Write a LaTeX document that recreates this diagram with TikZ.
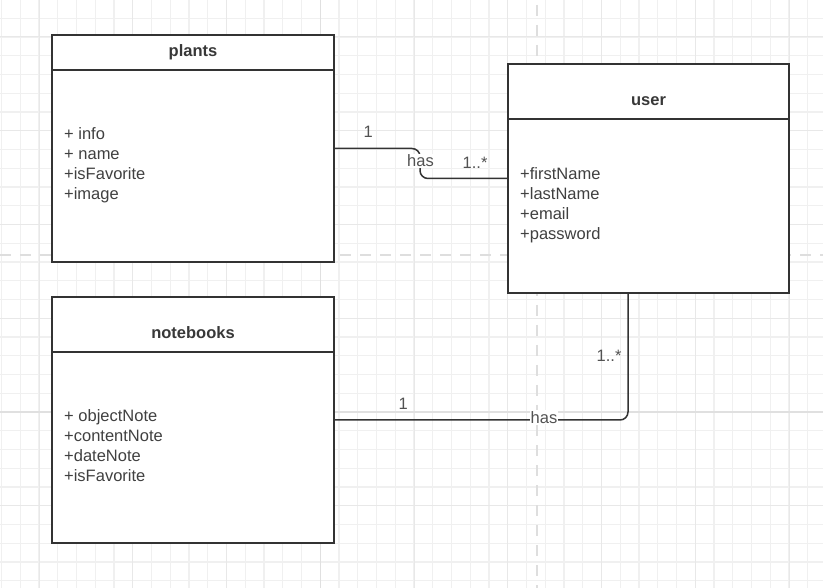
\documentclass[tikz,border=0pt]{standalone}
\usepackage{fontspec}
\setmainfont{Liberation Sans}
\begin{document}
\begin{tikzpicture}[x=1pt,y=-1pt,
  minorgrid/.style={draw=black!6,line width=1.2pt},
  majorgrid/.style={draw=black!9,line width=1pt},
  maingrid/.style={draw=black!12,line width=1.5pt},
  pagebreak/.style={draw=black!13,line width=2.4pt,dash pattern=on 11pt off 9pt},
  umlbox/.style={draw=black!80,line width=2pt,fill=white,rectangle,inner sep=0pt,outer sep=0pt,anchor=north west},
  divider/.style={draw=black!80,line width=2pt},
  titletext/.style={font=\fontsize{16.5}{20}\selectfont\bfseries,text=black!78,inner sep=0pt,anchor=base},
  attrtext/.style={font=\fontsize{16.5}{20}\selectfont,text=black!75,inner sep=0pt,anchor=base west},
  conn/.style={draw=black!80,line width=1.5pt,rounded corners=8pt},
  mult/.style={font=\fontsize{16.5}{20}\selectfont,text=black!68,inner sep=0pt,anchor=base west},
  assoc/.style={font=\fontsize{16.5}{20}\selectfont,text=black!68,fill=white,inner sep=1pt,anchor=base}
]
\useasboundingbox (0,0) rectangle (823,588);
\fill[white] (0,0) rectangle (823,588);
% grid
\foreach \i in {0,...,43} \draw[minorgrid] ({1.5+18.75*\i},0) -- ({1.5+18.75*\i},588);
\foreach \i in {0,...,31} \draw[minorgrid] (0,{-0.5+18.75*\i}) -- (823,{-0.5+18.75*\i});
\foreach \i in {0,1,2,4,5,6,7,8} \draw[majorgrid] ({39+93.75*\i},0) -- ({39+93.75*\i},588);
\foreach \i in {0,1,2,3,5} \draw[majorgrid] (0,{37+93.75*\i}) -- (823,{37+93.75*\i});
\draw[maingrid] (320.25,0) -- (320.25,588);
\draw[maingrid] (0,412) -- (823,412);
\draw[pagebreak] (537,5) -- (537,588);
\draw[pagebreak] (0,255) -- (823,255);

% boxes
\node[umlbox,minimum width=282pt,minimum height=227pt] (plants) at (52,35) {};
\node[umlbox,minimum width=281pt,minimum height=229pt] (user) at (508,64) {};
\node[umlbox,minimum width=282pt,minimum height=246pt] (notebooks) at (52,297) {};

\draw[divider] ([yshift=-35pt]plants.north west) -- ([yshift=-35pt]plants.north east);
\draw[divider] ([yshift=-55pt]user.north west) -- ([yshift=-55pt]user.north east);
\draw[divider] ([yshift=-55pt]notebooks.north west) -- ([yshift=-55pt]notebooks.north east);

% titles
\node[titletext] (tplants) at (193,56.7) {plants};
\node[titletext] (tuser) at (648.5,106) {user};
\node[titletext] (tnotebooks) at (193,338.3) {notebooks};

% attributes
\node[attrtext] (p1) at (64,139.3) {+ info};
\node[attrtext] (p2) at (64,159.3) {+ name};
\node[attrtext] (p3) at (64,179.3) {+isFavorite};
\node[attrtext] (p4) at (64,199.3) {+image};

\node[attrtext] (u1) at (520,179.5) {+firstName};
\node[attrtext] (u2) at (520,199.5) {+lastName};
\node[attrtext] (u3) at (520,219.5) {+email};
\node[attrtext] (u4) at (520,240) {+password};

\node[attrtext] (n1) at (64,421.3) {+ objectNote};
\node[attrtext] (n2) at (64,441.3) {+contentNote};
\node[attrtext] (n3) at (64,461.3) {+dateNote};
\node[attrtext] (n4) at (64,481.3) {+isFavorite};

% connectors
\draw[conn] (plants.east) -- ++(86,0) |- (user.west);
\draw[conn] ([xshift=-20.5pt]user.south) |- (notebooks.east);

% labels
\node[assoc] (has1) at (420.5,166.7) {has};
\node[mult] (m1a) at (363.5,137.3) {1};
\node[mult] (m1b) at (462.5,168.3) {1..*};

\node[assoc] (has2) at (544,423.3) {has};
\node[mult] (m2a) at (398.5,409.3) {1};
\node[mult] (m2b) at (596.5,361.7) {1..*};
\end{tikzpicture}
\end{document}
